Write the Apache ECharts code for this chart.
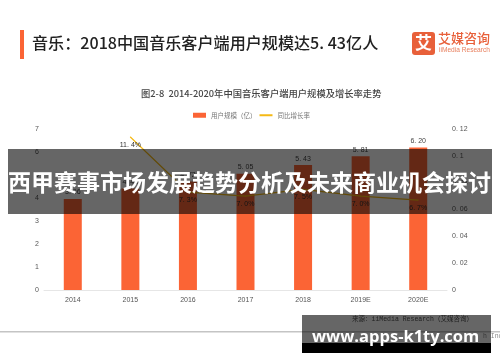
<!DOCTYPE html>
<html>
<head>
<meta charset="utf-8">
<style>
html, body { margin: 0; padding: 0; background: #fff; }
#chart { width: 500px; height: 362px; }
</style>
<script src="https://cdn.jsdelivr.net/npm/echarts@6/dist/echarts.min.js"></script>
</head>
<body>
<div id="chart"></div>
<script>
var categories = ['2014', '2015', '2016', '2017', '2018', '2019E', '2020E'];
var users = [3.96, 4.41, 4.72, 5.05, 5.43, 5.81, 6.20];
var growth = [null, 0.114, 0.073, 0.070, 0.075, 0.070, 0.067];
var leftTicks = [0, 1, 2, 3, 4, 5, 6, 7];
var rightTicks = [0, 0.02, 0.04, 0.06, 0.08, 0.1, 0.12];

var cjk = '"Noto Sans CJK SC", sans-serif';
var orange = '#fb6435';
var gold = '#f5b915';

var chart = echarts.init(document.getElementById('chart'), null, { renderer: 'canvas' });
chart.setOption({
    animation: false,
    backgroundColor: '#fff',
    textStyle: { fontFamily: cjk },
    legend: {
        top: 107,
        left: 188,
        itemGap: 2,
        itemWidth: 13,
        itemHeight: 5,
        textStyle: { fontSize: 6.5, color: '#777', fontFamily: cjk },
        data: [
            { name: '用户规模（亿）', icon: 'rect' },
            { name: '同比增长率', itemStyle: { opacity: 0 } }
        ]
    },
    grid: { left: 44, right: 53, top: 129, bottom: 72 },
    xAxis: {
        type: 'category',
        data: categories,
        axisLine: { lineStyle: { color: '#e6e6e6' } },
        axisTick: { lineStyle: { color: '#e6e6e6' }, length: 3 },
        axisLabel: { fontSize: 7, color: '#555', margin: 7, fontFamily: 'Liberation Sans' }
    },
    yAxis: [{
        type: 'value',
        min: 0,
        max: leftTicks[leftTicks.length - 1],
        interval: 1,
        splitLine: { show: false },
        axisLine: { show: false },
        axisTick: { show: false },
        axisLabel: { fontSize: 7, color: '#555', margin: 5, fontFamily: 'Liberation Sans' }
    }, {
        type: 'value',
        min: 0,
        max: rightTicks[rightTicks.length - 1],
        interval: 0.02,
        splitLine: { show: false },
        axisLine: { show: false },
        axisTick: { show: false },
        axisLabel: { fontSize: 7, color: '#555', margin: 5, fontFamily: 'Liberation Sans',
            formatter: function (v) { return String(v).replace('.', '. '); } }
    }],
    series: [{
        name: '用户规模（亿）',
        type: 'bar',
        data: users,
        barWidth: 18,
        itemStyle: { color: orange },
        label: {
            show: true, position: 'top', distance: 3, fontSize: 7, color: '#444',
            fontFamily: 'Liberation Sans',
            formatter: function (p) { return p.value.toFixed(2).replace('.', '. '); }
        }
    }, {
        name: '同比增长率',
        type: 'line',
        yAxisIndex: 1,
        data: growth,
        symbol: 'circle',
        symbolSize: 1,
        lineStyle: { color: gold, width: 1.2 },
        itemStyle: { color: gold },
        z: 3,
        label: {
            show: true, position: 'bottom', distance: 4, fontSize: 7, color: '#333',
            fontFamily: 'Liberation Sans',
            formatter: function (p) { return (p.value * 100).toFixed(1).replace('.', '. ') + '%'; }
        }
    }],
    graphic: [
        { type: 'rect', z: 100, shape: { x: 20, y: 30, width: 4, height: 29 }, style: { fill: orange } },
        { type: 'text', z: 100, x: 32, y: 35, style: { text: '音乐：2018中国音乐客户端用户规模达5. 43亿人', font: '500 16.1px "Noto Sans CJK SC"', fill: '#222' } },
        { type: 'rect', z: 100, shape: { x: 412, y: 32, width: 23, height: 23, r: 3 }, style: { fill: '#e8603a' } },
        { type: 'text', z: 101, x: 415, y: 34, style: { text: '艾', font: 'bold 17px "Noto Sans CJK SC"', fill: '#fff' } },
        { type: 'text', z: 100, x: 438, y: 32, style: { text: '艾媒咨询', font: '500 13px "Noto Sans CJK SC"', fill: '#e8603a' } },
        { type: 'text', z: 100, x: 439, y: 47, style: { text: 'iiMedia Research', font: '6.6px "Liberation Sans"', fill: '#e8805f' } },
        { type: 'text', z: 100, x: 141, y: 89, style: { text: '图2-8  2014-2020年中国音乐客户端用户规模及增长率走势', font: '500 9.3px "Noto Sans CJK SC"', fill: '#444' } },
        { type: 'rect', z: 100, shape: { x: 0, y: 331, width: 500, height: 1.5 }, style: { fill: '#c4c4c4' } },
        { type: 'text', z: 100, x: 352, y: 316, style: { text: '来源：iiMedia Research（艾媒咨询）', font: '6.5px "Liberation Mono", "Noto Sans CJK SC"', fill: '#555' } },
        { type: 'text', z: 100, x: 483, y: 333, style: { text: 'h Inc', font: '6.5px "Liberation Mono"', fill: '#888' } },
        { type: 'rect', z: 200, shape: { x: 8, y: 149, width: 484, height: 65 }, style: { fill: 'rgba(0,0,0,0.6)' } },
        { type: 'text', z: 201, x: 8, y: 171, style: { text: '西甲赛事市场发展趋势分析及未来商业机会探讨', font: 'bold 23px "Noto Sans CJK SC"', fill: '#fff' } },
        { type: 'rect', z: 200, shape: { x: 302, y: 315, width: 189, height: 28 }, style: { fill: 'rgba(0,0,0,0.6)' } },
        { type: 'rect', z: 200, shape: { x: 302, y: 343, width: 189, height: 10 }, style: { fill: '#000' } },
        { type: 'text', z: 201, x: 312, y: 329, style: { text: 'www.apps-k1ty.com', font: 'bold 16.5px "Open Sans"', fill: '#fff' } }
    ]
});
</script>
</body>
</html>
